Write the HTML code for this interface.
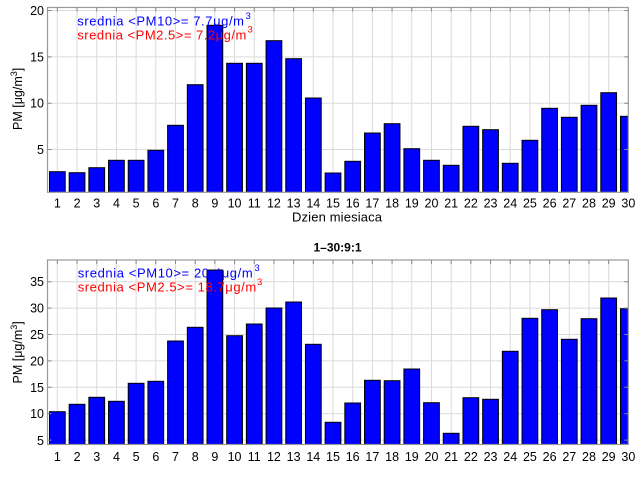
<!DOCTYPE html>
<html><head><meta charset="utf-8"><style>
html,body{margin:0;padding:0;background:#fff;}
svg{display:block;}
text{font-family:"Liberation Sans",Arial,sans-serif;}
</style></head><body>
<svg width="640" height="480" viewBox="0 0 640 480" xmlns="http://www.w3.org/2000/svg">
<defs>
<clipPath id="c1"><rect x="47.5" y="7.5" width="580.8" height="184.8"/></clipPath>
<clipPath id="c2"><rect x="47.5" y="260" width="580.8" height="184.5"/></clipPath>
</defs>
<rect width="640" height="480" fill="#fff"/>

<!-- ============ TOP AXES ============ -->
<g stroke="#dadada" stroke-width="1">
<path d="M47.5 10.5H628.3M47.5 56.85H628.3M47.5 103.2H628.3M47.5 149.5H628.3"/>
<path d="M57.35 7.5V192.3M77.04 7.5V192.3M96.73 7.5V192.3M116.42 7.5V192.3M136.11 7.5V192.3M155.8 7.5V192.3M175.49 7.5V192.3M195.18 7.5V192.3M214.87 7.5V192.3M234.56 7.5V192.3M254.25 7.5V192.3M273.94 7.5V192.3M293.63 7.5V192.3M313.32 7.5V192.3M333.01 7.5V192.3M352.7 7.5V192.3M372.39 7.5V192.3M392.08 7.5V192.3M411.77 7.5V192.3M431.46 7.5V192.3M451.15 7.5V192.3M470.84 7.5V192.3M490.53 7.5V192.3M510.22 7.5V192.3M529.91 7.5V192.3M549.6 7.5V192.3M569.29 7.5V192.3M588.98 7.5V192.3M608.67 7.5V192.3"/>
</g>
<g clip-path="url(#c1)" fill="#0000ff" stroke="#000" stroke-width="1">
<rect x="49.48" y="171.7" width="15.75" height="20.6"/>
<rect x="69.17" y="172.7" width="15.75" height="19.6"/>
<rect x="88.86" y="167.7" width="15.75" height="24.6"/>
<rect x="108.55" y="160.3" width="15.75" height="32"/>
<rect x="128.24" y="160.3" width="15.75" height="32"/>
<rect x="147.93" y="150.3" width="15.75" height="42"/>
<rect x="167.62" y="125.3" width="15.75" height="67"/>
<rect x="187.31" y="84.7" width="15.75" height="107.6"/>
<rect x="207.0" y="25.3" width="15.75" height="167"/>
<rect x="226.69" y="63.3" width="15.75" height="129"/>
<rect x="246.38" y="63.3" width="15.75" height="129"/>
<rect x="266.07" y="40.7" width="15.75" height="151.6"/>
<rect x="285.76" y="58.7" width="15.75" height="133.6"/>
<rect x="305.45" y="98" width="15.75" height="94.3"/>
<rect x="325.14" y="173" width="15.75" height="19.3"/>
<rect x="344.83" y="161.3" width="15.75" height="31"/>
<rect x="364.52" y="133" width="15.75" height="59.3"/>
<rect x="384.21" y="123.7" width="15.75" height="68.6"/>
<rect x="403.9" y="148.7" width="15.75" height="43.6"/>
<rect x="423.59" y="160.3" width="15.75" height="32"/>
<rect x="443.28" y="165.3" width="15.75" height="27"/>
<rect x="462.97" y="126.3" width="15.75" height="66"/>
<rect x="482.66" y="129.7" width="15.75" height="62.6"/>
<rect x="502.35" y="163.3" width="15.75" height="29"/>
<rect x="522.04" y="140.3" width="15.75" height="52"/>
<rect x="541.73" y="108.3" width="15.75" height="84"/>
<rect x="561.42" y="117.3" width="15.75" height="75"/>
<rect x="581.11" y="105.3" width="15.75" height="87"/>
<rect x="600.8" y="92.7" width="15.75" height="99.6"/>
<rect x="620.49" y="116.3" width="15.75" height="76"/>
</g>
<rect x="47.5" y="7.5" width="580.8" height="184.8" fill="none" stroke="#9a9a9a" stroke-width="1.2"/>
<g stroke="#888" stroke-width="1">
<path d="M47.5 10.5h4M47.5 56.85h4M47.5 103.2h4M47.5 149.5h4M628.3 10.5h-4M628.3 56.85h-4M628.3 103.2h-4M628.3 149.5h-4"/>
<path d="M57.35 7.5v4M77.04 7.5v4M96.73 7.5v4M116.42 7.5v4M136.11 7.5v4M155.8 7.5v4M175.49 7.5v4M195.18 7.5v4M214.87 7.5v4M234.56 7.5v4M254.25 7.5v4M273.94 7.5v4M293.63 7.5v4M313.32 7.5v4M333.01 7.5v4M352.7 7.5v4M372.39 7.5v4M392.08 7.5v4M411.77 7.5v4M431.46 7.5v4M451.15 7.5v4M470.84 7.5v4M490.53 7.5v4M510.22 7.5v4M529.91 7.5v4M549.6 7.5v4M569.29 7.5v4M588.98 7.5v4M608.67 7.5v4"/>
</g>
<g font-size="12.5" fill="#000" text-anchor="end">
<text x="44" y="15">20</text>
<text x="44" y="61.3">15</text>
<text x="44" y="107.7">10</text>
<text x="44" y="154">5</text>
</g>
<g font-size="12.5" fill="#000" text-anchor="middle">
<text x="57.35" y="207.5">1</text><text x="77.04" y="207.5">2</text><text x="96.73" y="207.5">3</text><text x="116.42" y="207.5">4</text><text x="136.11" y="207.5">5</text><text x="155.8" y="207.5">6</text><text x="175.49" y="207.5">7</text><text x="195.18" y="207.5">8</text><text x="214.87" y="207.5">9</text><text x="234.56" y="207.5">10</text><text x="254.25" y="207.5">11</text><text x="273.94" y="207.5">12</text><text x="293.63" y="207.5">13</text><text x="313.32" y="207.5">14</text><text x="333.01" y="207.5">15</text><text x="352.7" y="207.5">16</text><text x="372.39" y="207.5">17</text><text x="392.08" y="207.5">18</text><text x="411.77" y="207.5">19</text><text x="431.46" y="207.5">20</text><text x="451.15" y="207.5">21</text><text x="470.84" y="207.5">22</text><text x="490.53" y="207.5">23</text><text x="510.22" y="207.5">24</text><text x="529.91" y="207.5">25</text><text x="549.6" y="207.5">26</text><text x="569.29" y="207.5">27</text><text x="588.98" y="207.5">28</text><text x="608.67" y="207.5">29</text><text x="628.36" y="207.5">30</text>
</g>
<text x="292" y="221.5" font-size="13" textLength="90" lengthAdjust="spacing">Dzien miesiaca</text>
<text transform="translate(22,130) rotate(-90)" font-size="12.5">PM [μg/m<tspan font-size="9" dy="-5">3</tspan><tspan dy="5">]</tspan></text>
<text x="77.3" y="25.7" font-size="13" fill="#0000ff" textLength="166.7" lengthAdjust="spacing">srednia &lt;PM10&gt;= 7.7μg/m</text>
<text x="245.5" y="19" font-size="9.5" fill="#0000ff">3</text>
<text x="77.3" y="39.3" font-size="13" fill="#ff0000" textLength="169" lengthAdjust="spacing">srednia &lt;PM2.5&gt;= 7.2μg/m</text>
<text x="247.5" y="32.6" font-size="9.5" fill="#ff0000">3</text>

<!-- title -->
<text x="337.5" y="251.5" font-size="12" font-weight="bold" text-anchor="middle">1–30:9:1</text>

<!-- ============ BOTTOM AXES ============ -->
<g stroke="#dadada" stroke-width="1">
<path d="M47.5 281.7H628.3M47.5 308.1H628.3M47.5 334.5H628.3M47.5 360.9H628.3M47.5 387.3H628.3M47.5 413.7H628.3M47.5 440.1H628.3"/>
<path d="M57.35 260V444.5M77.04 260V444.5M96.73 260V444.5M116.42 260V444.5M136.11 260V444.5M155.8 260V444.5M175.49 260V444.5M195.18 260V444.5M214.87 260V444.5M234.56 260V444.5M254.25 260V444.5M273.94 260V444.5M293.63 260V444.5M313.32 260V444.5M333.01 260V444.5M352.7 260V444.5M372.39 260V444.5M392.08 260V444.5M411.77 260V444.5M431.46 260V444.5M451.15 260V444.5M470.84 260V444.5M490.53 260V444.5M510.22 260V444.5M529.91 260V444.5M549.6 260V444.5M569.29 260V444.5M588.98 260V444.5M608.67 260V444.5"/>
</g>
<g clip-path="url(#c2)" fill="#0000ff" stroke="#000" stroke-width="1">
<rect x="49.48" y="411.7" width="15.75" height="32.8"/>
<rect x="69.17" y="404.3" width="15.75" height="40.2"/>
<rect x="88.86" y="397.3" width="15.75" height="47.2"/>
<rect x="108.55" y="401.3" width="15.75" height="43.2"/>
<rect x="128.24" y="383.3" width="15.75" height="61.2"/>
<rect x="147.93" y="381.3" width="15.75" height="63.2"/>
<rect x="167.62" y="341" width="15.75" height="103.5"/>
<rect x="187.31" y="327.3" width="15.75" height="117.2"/>
<rect x="207.0" y="270" width="15.75" height="174.5"/>
<rect x="226.69" y="335.7" width="15.75" height="108.8"/>
<rect x="246.38" y="324" width="15.75" height="120.5"/>
<rect x="266.07" y="308" width="15.75" height="136.5"/>
<rect x="285.76" y="302" width="15.75" height="142.5"/>
<rect x="305.45" y="344.3" width="15.75" height="100.2"/>
<rect x="325.14" y="422.3" width="15.75" height="22.2"/>
<rect x="344.83" y="403" width="15.75" height="41.5"/>
<rect x="364.52" y="380.3" width="15.75" height="64.2"/>
<rect x="384.21" y="380.7" width="15.75" height="63.8"/>
<rect x="403.9" y="369" width="15.75" height="75.5"/>
<rect x="423.59" y="402.7" width="15.75" height="41.8"/>
<rect x="443.28" y="433.3" width="15.75" height="11.2"/>
<rect x="462.97" y="397.7" width="15.75" height="46.8"/>
<rect x="482.66" y="399.3" width="15.75" height="45.2"/>
<rect x="502.35" y="351.3" width="15.75" height="93.2"/>
<rect x="522.04" y="318.3" width="15.75" height="126.2"/>
<rect x="541.73" y="309.7" width="15.75" height="134.8"/>
<rect x="561.42" y="339.3" width="15.75" height="105.2"/>
<rect x="581.11" y="318.7" width="15.75" height="125.8"/>
<rect x="600.8" y="298" width="15.75" height="146.5"/>
<rect x="620.49" y="308.7" width="15.75" height="135.8"/>
</g>
<rect x="47.5" y="260" width="580.8" height="184.5" fill="none" stroke="#9a9a9a" stroke-width="1.2"/>
<g stroke="#888" stroke-width="1">
<path d="M47.5 281.7h4M47.5 308.1h4M47.5 334.5h4M47.5 360.9h4M47.5 387.3h4M47.5 413.7h4M47.5 440.1h4M628.3 281.7h-4M628.3 308.1h-4M628.3 334.5h-4M628.3 360.9h-4M628.3 387.3h-4M628.3 413.7h-4M628.3 440.1h-4"/>
<path d="M57.35 260v4M77.04 260v4M96.73 260v4M116.42 260v4M136.11 260v4M155.8 260v4M175.49 260v4M195.18 260v4M214.87 260v4M234.56 260v4M254.25 260v4M273.94 260v4M293.63 260v4M313.32 260v4M333.01 260v4M352.7 260v4M372.39 260v4M392.08 260v4M411.77 260v4M431.46 260v4M451.15 260v4M470.84 260v4M490.53 260v4M510.22 260v4M529.91 260v4M549.6 260v4M569.29 260v4M588.98 260v4M608.67 260v4"/>
</g>
<g font-size="12.5" fill="#000" text-anchor="end">
<text x="44" y="286.2">35</text>
<text x="44" y="312.6">30</text>
<text x="44" y="339">25</text>
<text x="44" y="365.4">20</text>
<text x="44" y="391.8">15</text>
<text x="44" y="418.2">10</text>
<text x="44" y="444.8">5</text>
</g>
<g font-size="12.5" fill="#000" text-anchor="middle">
<text x="57.35" y="461">1</text><text x="77.04" y="461">2</text><text x="96.73" y="461">3</text><text x="116.42" y="461">4</text><text x="136.11" y="461">5</text><text x="155.8" y="461">6</text><text x="175.49" y="461">7</text><text x="195.18" y="461">8</text><text x="214.87" y="461">9</text><text x="234.56" y="461">10</text><text x="254.25" y="461">11</text><text x="273.94" y="461">12</text><text x="293.63" y="461">13</text><text x="313.32" y="461">14</text><text x="333.01" y="461">15</text><text x="352.7" y="461">16</text><text x="372.39" y="461">17</text><text x="392.08" y="461">18</text><text x="411.77" y="461">19</text><text x="431.46" y="461">20</text><text x="451.15" y="461">21</text><text x="470.84" y="461">22</text><text x="490.53" y="461">23</text><text x="510.22" y="461">24</text><text x="529.91" y="461">25</text><text x="549.6" y="461">26</text><text x="569.29" y="461">27</text><text x="588.98" y="461">28</text><text x="608.67" y="461">29</text><text x="628.36" y="461">30</text>
</g>
<text transform="translate(22,383.5) rotate(-90)" font-size="12.5">PM [μg/m<tspan font-size="9" dy="-5">3</tspan><tspan dy="5">]</tspan></text>
<text x="77.7" y="277.7" font-size="13" fill="#0000ff" textLength="175" lengthAdjust="spacing">srednia &lt;PM10&gt;= 20.4μg/m</text>
<text x="254.5" y="271" font-size="9.5" fill="#0000ff">3</text>
<text x="77.7" y="291.7" font-size="13" fill="#ff0000" textLength="178.5" lengthAdjust="spacing">srednia &lt;PM2.5&gt;= 18.7μg/m</text>
<text x="257" y="285" font-size="9.5" fill="#ff0000">3</text>
</svg>
</body></html>
